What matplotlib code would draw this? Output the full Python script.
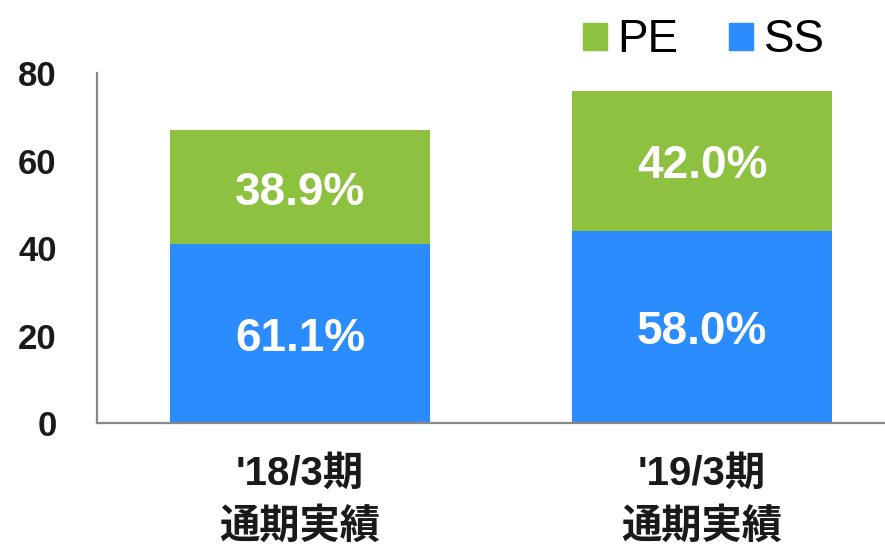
"""Stacked bar chart: PE / SS split per fiscal year."""

import numpy as np
import matplotlib
matplotlib.use('Agg')
from matplotlib import pyplot as plt
from matplotlib.patches import Patch

#-----------------------------------------------------------------------------
# Data
#-----------------------------------------------------------------------------

categories = ["'18/3期\n通期実績", "'19/3期\n通期実績"]
ss_values = [40.9, 44.0]
pe_values = [26.1, 31.9]
ss_share = ['61.1%', '58.0%']
pe_share = ['38.9%', '42.0%']
yticks = [0, 20, 40, 60, 80]

pe_color = '#8DC13F'
ss_color = '#2B8CFF'
fonts = ['Liberation Sans', 'Noto Sans CJK JP']

#-----------------------------------------------------------------------------
# Plot
#-----------------------------------------------------------------------------

plt.rcParams['font.family'] = fonts

fig = plt.figure(figsize=(8.85, 5.44), dpi=100)
ax = fig.add_axes([0.1096, 0.2224, 0.8904, 0.6434])

x = np.arange(len(categories))
width = 0.647
ax.bar(x, ss_values, width, color=ss_color)
ax.bar(x, pe_values, width, bottom=ss_values, color=pe_color)

for i in range(len(x)):
    ax.annotate(ss_share[i], (x[i], ss_values[i] / 2), xytext=(0, -4),
                textcoords='offset points', ha='center', va='center',
                color='white', fontsize=33, fontweight='bold')
    ax.annotate(pe_share[i], (x[i], ss_values[i] + pe_values[i] / 2),
                xytext=(0, -4), textcoords='offset points', ha='center',
                va='center', color='white', fontsize=33, fontweight='bold')

ax.set_xlim(-0.505, 1.455)
ax.set_ylim(0, 80)
ax.set_yticks(yticks)
ax.set_yticklabels([str(v) for v in yticks], fontsize=25, fontweight='bold',
                   color='#1a1a1a')
ax.set_xticks(x)
ax.set_xticklabels(categories, fontsize=29, fontweight='bold', color='#1a1a1a',
                   linespacing=1.45)
ax.tick_params(axis='both', length=0)
ax.tick_params(axis='y', pad=29)
ax.tick_params(axis='x', pad=23)

for s in ['top', 'right']:
    ax.spines[s].set_visible(False)
for s in ['left', 'bottom']:
    ax.spines[s].set_color('#888888')
    ax.spines[s].set_linewidth(1.6)

handles = [Patch(color=pe_color, label='PE'), Patch(color=ss_color, label='SS')]
fig.legend(handles=handles, loc='upper left', bbox_to_anchor=(0.612, 1.042),
           ncol=2, frameon=False, fontsize=33, handlelength=0.52,
           handleheight=0.52, handletextpad=0.24, columnspacing=1.1)

fig.savefig('out.png', dpi=100)
